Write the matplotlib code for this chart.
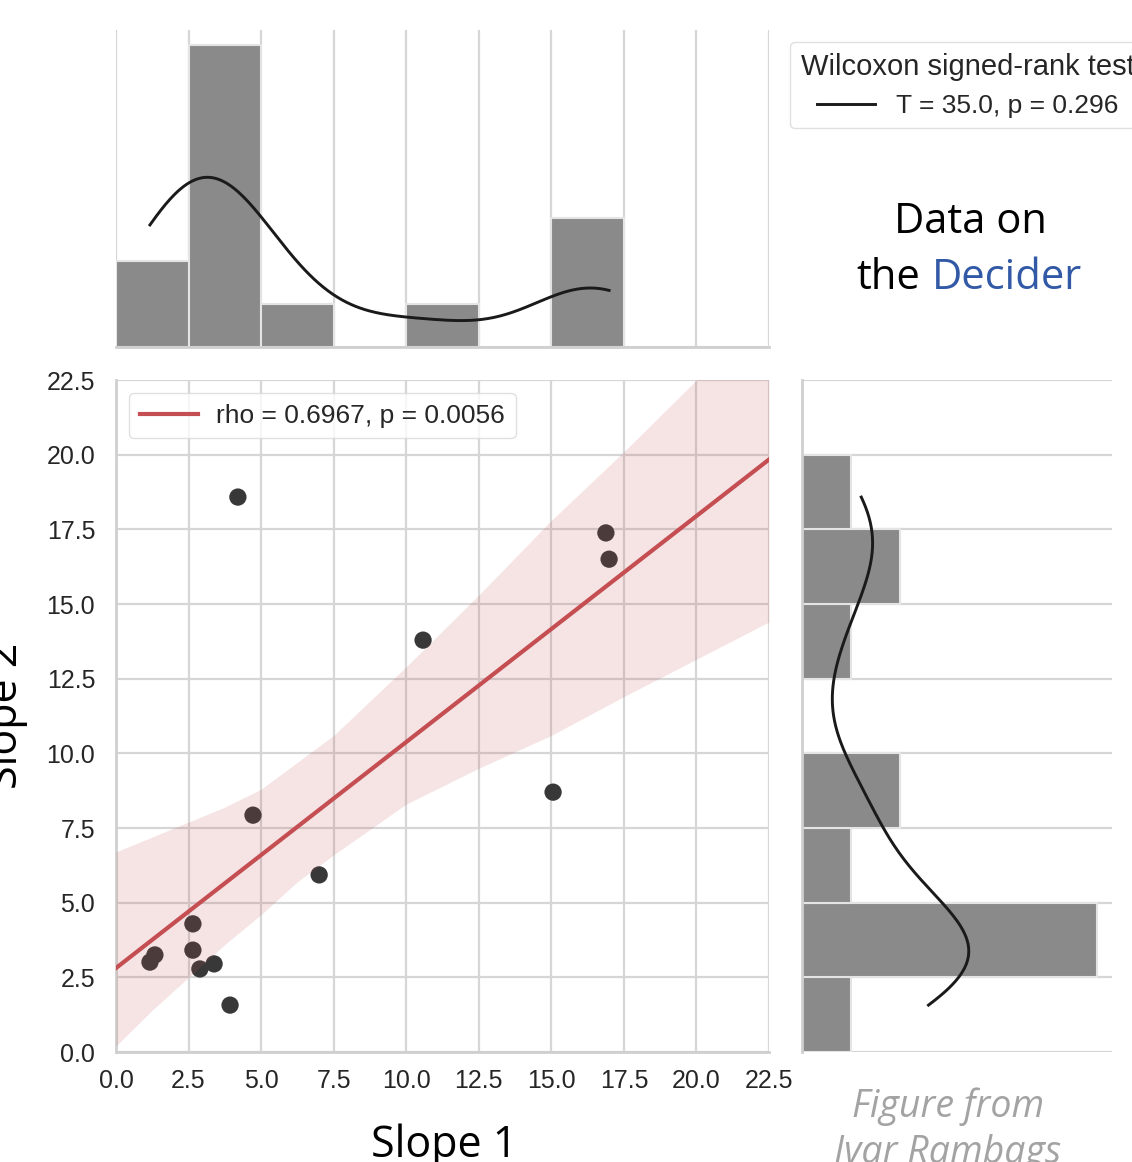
import matplotlib

matplotlib.use("Agg")
import matplotlib.pyplot as plt
from matplotlib.lines import Line2D
import numpy as np

# slope pairs
slope1 = np.array([4.20, 16.88, 16.99, 10.58, 15.06, 4.72, 7.00,
                   2.65, 2.65, 1.34, 1.17, 3.38, 2.89, 3.93])
slope2 = np.array([18.58, 17.38, 16.50, 13.79, 8.70, 7.93, 5.93,
                   4.29, 3.41, 3.25, 3.01, 2.95, 2.78, 1.57])

# bootstrap confidence band of the fit
band_x = [0, 1.25, 2.5, 3.75, 5, 6.25, 7.5, 10, 12.5, 15, 17.5, 20, 22.5]
band_lo = [0.2, 1.4, 2.5, 3.6, 4.6, 5.7, 6.6, 8.3, 9.5, 10.6, 11.9, 13.15, 14.4]
band_hi = [6.7, 7.2, 7.7, 8.2, 8.8, 9.7, 10.6, 12.9, 15.3, 17.8, 20.1, 22.5, 24.9]

bins = np.arange(0, 25, 2.5)
ticks = np.arange(0, 22.6, 2.5)
rho_label = "rho = 0.6967, p = 0.0056"
wil_title = "Wilcoxon signed-rank test"
wil_label = "T = 35.0, p = 0.296"

GRID = "#d6d6d6"
SPINE = "#cfcfcf"
BAR = "#8a8a8a"
RED = "#c44e52"
TXT = "#262626"
SANS = "Liberation Sans"
HUMAN = "Open Sans"

W, H = 1132, 1162


def box(l, t, r, b):
    # pixel box (left, top, right, bottom) -> figure fraction rect
    return [l / W, 1 - b / H, (r - l) / W, (b - t) / H]


def kde_counts(vals, bw, binw):
    # gaussian kde cut at the data range, scaled to histogram counts
    grid = np.linspace(vals.min(), vals.max(), 300)
    z = (grid[:, None] - vals[None, :]) / bw
    dens = np.exp(-0.5 * z ** 2).sum(axis=1) / (len(vals) * bw * np.sqrt(2 * np.pi))
    return grid, dens * len(vals) * binw


def clean(ax, keep):
    for side, sp in ax.spines.items():
        sp.set_visible(side in keep)
        sp.set_color(SPINE)
        sp.set_linewidth(2)


fig = plt.figure(figsize=(W / 100, H / 100), dpi=100)
ax = fig.add_axes(box(116, 380, 769, 1052))
ax_top = fig.add_axes(box(116, 30, 769, 347))
ax_right = fig.add_axes(box(802, 380, 1112, 1052))

# --- joint scatter + regression ---
ax.scatter(slope1, slope2, s=155, color="#383838", edgecolor="none", zorder=3)
coef = np.polyfit(slope1, slope2, 1)
xs = np.linspace(0, 22.5, 100)
ax.plot(xs, np.polyval(coef, xs), color=RED, lw=3, zorder=4, label=rho_label)
ax.fill_between(band_x, band_lo, band_hi, color=RED, alpha=0.15, lw=0, zorder=5)
ax.set_xlim(0, 22.5)
ax.set_ylim(0, 22.5)
ax.set_xticks(ticks)
ax.set_yticks(ticks)
ax.set_xticklabels([f"{t:.1f}" for t in ticks], family=SANS)
ax.set_yticklabels([f"{t:.1f}" for t in ticks], family=SANS)
ax.tick_params(length=0, labelsize=18, labelcolor=TXT)
ax.tick_params(axis="x", pad=12)
ax.tick_params(axis="y", pad=15)
ax.grid(color=GRID, lw=1.6)
ax.set_axisbelow(True)
clean(ax, ("left", "bottom"))
leg = ax.legend(loc="upper left", handlelength=2.2, handletextpad=0.7,
                borderaxespad=0.5, edgecolor="#d9d9d9", prop={"family": SANS, "size": 19})
for t in leg.get_texts():
    t.set_color(TXT)

# --- top marginal ---
ax_top.hist(slope1, bins=bins, color=BAR, edgecolor="#e4e4e4", lw=1.5, zorder=2)
gx, gy = kde_counts(slope1, 2.0, 2.5)
ax_top.plot(gx, gy, color="#1a1a1a", lw=2.1, zorder=3)
ax_top.set_xlim(0, 22.5)
ax_top.set_xticks(ticks)
ax_top.tick_params(length=0, labelbottom=False, labelleft=False)
ax_top.grid(axis="x", color=GRID, lw=1.6)
ax_top.grid(axis="y", visible=False)
ax_top.set_axisbelow(True)
clean(ax_top, ("bottom",))

# --- right marginal ---
ax_right.hist(slope2, bins=bins, orientation="horizontal", color=BAR,
              edgecolor="#e4e4e4", lw=1.5, zorder=2)
gy2, gx2 = kde_counts(slope2, 2.1, 2.5)
ax_right.plot(gx2, gy2, color="#1a1a1a", lw=2.1, zorder=3)
ax_right.set_ylim(0, 22.5)
ax_right.set_yticks(ticks)
ax_right.tick_params(length=0, labelbottom=False, labelleft=False)
ax_right.grid(axis="y", color=GRID, lw=1.6)
ax_right.grid(axis="x", visible=False)
ax_right.set_axisbelow(True)
clean(ax_right, ("left",))

# --- wilcoxon legend, runs off the right edge like the original ---
wleg = fig.legend(handles=[Line2D([], [], color="#1a1a1a", lw=2.1)], labels=[wil_label],
                  title=wil_title, loc="upper left", bbox_to_anchor=(790 / W, 1 - 42 / H),
                  borderaxespad=0, handlelength=2.2, edgecolor="#d9d9d9",
                  prop={"family": SANS, "size": 19},
                  title_fontproperties={"family": SANS, "size": 21})
wleg.get_title().set_color(TXT)
for t in wleg.get_texts():
    t.set_color(TXT)

# --- overlay texts (cropped at the figure edge as in the source) ---
fig.text(444 / W, 5 / H, "Slope 1", ha="center", va="baseline", fontsize=31, family=HUMAN)
fig.text(17 / W, 1 - 716 / H, "Slope 2", rotation=90, rotation_mode="anchor",
         ha="center", va="baseline", fontsize=31, family=HUMAN)
fig.text(970 / W, 1 - 233 / H, "Data on", ha="center", va="baseline", fontsize=30, family=HUMAN)
fig.text(920 / W, 1 - 289 / H, "the", ha="right", va="baseline", fontsize=30, family=HUMAN)
fig.text(932 / W, 1 - 289 / H, "Decider", ha="left", va="baseline", fontsize=30,
         family=HUMAN, color="#3159a6")
fig.text(948 / W, 1 - 1117 / H, "Figure from", ha="center", va="baseline", fontsize=27,
         family=HUMAN, style="italic", color="#a3a3a3")
fig.text(948 / W, 1 - 1163 / H, "Ivar Rambags", ha="center", va="baseline", fontsize=27,
         family=HUMAN, style="italic", color="#a3a3a3")

fig.savefig("out.png", dpi=100)
